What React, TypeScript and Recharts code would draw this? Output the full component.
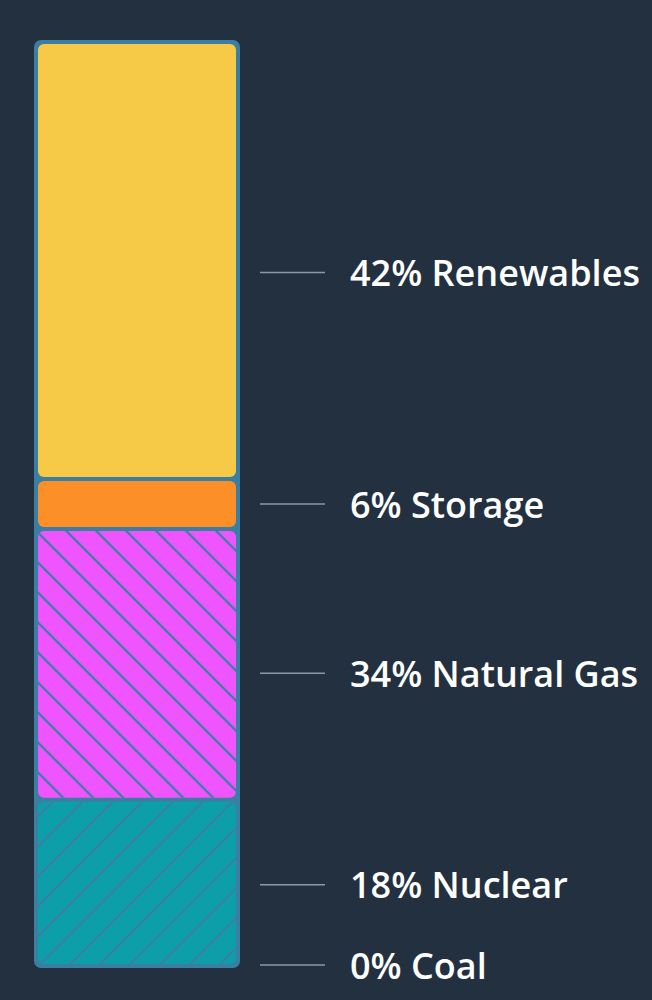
import { Bar, BarChart, XAxis, YAxis } from "recharts";

// top to bottom, as drawn in the column
const sources = ["Renewables", "Storage", "Natural Gas", "Nuclear", "Coal"];
// share printed next to each segment
const printedShares = [42, 6, 34, 18, 0];
// segment heights (percent of the full column)
const segmentSizes = [47.3, 5.4, 29.3, 18.0, 0];

const FILLS: Record<string, string> = {
  Renewables: "#f6c946",
  Storage: "#fd8f29",
  "Natural Gas": "#ee55fe",
  Nuclear: "#0c9fa9",
  Coal: "#3a7fa3",
};
const HATCH: Record<string, string | undefined> = {
  "Natural Gas": "hatch-back",
  Nuclear: "hatch-fwd",
};
// the labels are not quite on the segment centres in the original
const LABEL_NUDGE: Record<string, number> = {
  Renewables: 12,
  "Natural Gas": 9,
  Nuclear: 2,
  Coal: -1,
};

const BG = "#223040";
const FRAME = "#3a7fa3";
const LEADER = "#8a99a6";
const TILE = 21.2;

if (typeof document !== "undefined") {
  document.body.style.margin = "0";
  document.body.style.background = BG;
}

const row: Record<string, number | string> = { name: "mix" };
sources.forEach((s, i) => {
  row[s] = segmentSizes[i];
});
const data = [row];

function makeShape(source: string, idx: number) {
  return (props: any) => {
    const { x, y, width, height } = props;
    const h = Math.max(0, height - 4);
    const pattern = HATCH[source];
    const cy = y + height / 2 + (LABEL_NUDGE[source] ?? 0);
    const right = x + width;
    return (
      <g>
        {h > 0 ? (
          <>
            <rect x={x + 4} y={y + 2} width={width - 8} height={h} rx={6} fill={FILLS[source]} />
            {pattern ? (
              <rect x={x + 4} y={y + 2} width={width - 8} height={h} rx={6} fill={`url(#${pattern})`} />
            ) : null}
          </>
        ) : null}
        <line x1={right + 20} x2={right + 85} y1={cy} y2={cy} stroke={LEADER} strokeWidth={1.5} />
        <text
          x={right + 110}
          y={cy}
          dominantBaseline="central"
          fill="#ffffff"
          fontFamily="'Open Sans', sans-serif"
          fontWeight={600}
          fontSize={36}
        >
          {`${printedShares[idx]}% ${source}`}
        </text>
      </g>
    );
  };
}

function Frame(props: any) {
  const { x, y, width, height } = props;
  return <rect x={x} y={y - 2} width={width} height={height + 4} rx={7} fill={FRAME} />;
}

export default function App() {
  const stackOrder = [...sources].reverse();
  return (
    <div style={{ width: 652, height: 1000, background: BG }}>
      <BarChart
        width={652}
        height={1000}
        data={data}
        margin={{ top: 42, right: 412, bottom: 34, left: 34 }}
        barCategoryGap={0}
      >
        <defs>
          <pattern id="hatch-back" patternUnits="userSpaceOnUse" width={TILE} height={TILE} patternTransform="rotate(-45)">
            <line x1={TILE / 2} y1={0} x2={TILE / 2} y2={TILE} stroke={FRAME} strokeWidth={2.2} />
          </pattern>
          <pattern id="hatch-fwd" patternUnits="userSpaceOnUse" width={TILE} height={TILE} patternTransform="rotate(45)">
            <line x1={TILE / 2} y1={0} x2={TILE / 2} y2={TILE} stroke={FRAME} strokeWidth={2.2} />
          </pattern>
        </defs>
        <XAxis dataKey="name" hide />
        <YAxis hide domain={[0, 100]} />
        {stackOrder.map((s, i) => (
          <Bar
            key={s}
            dataKey={s}
            stackId="mix"
            isAnimationActive={false}
            background={i === 0 ? Frame : undefined}
            shape={makeShape(s, sources.indexOf(s))}
          />
        ))}
      </BarChart>
    </div>
  );
}
